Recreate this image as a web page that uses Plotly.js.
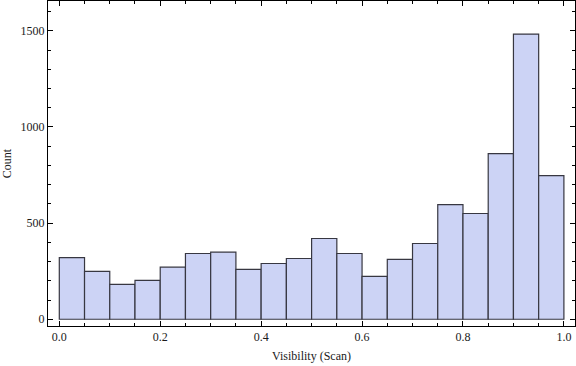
<!DOCTYPE html>
<html>
<head>
<meta charset="utf-8">
<script src="https://cdn.plot.ly/plotly-3.0.1.min.js"></script>
<style>
  html, body { margin: 0; padding: 0; background: #fff; }
  #chart { width: 576px; height: 366px; }
</style>
</head>
<body>
<div id="chart"></div>
<script>
// Bin centers (bin width 0.05, from 0 to 1)
const binCenters = [0.025, 0.075, 0.125, 0.175, 0.225, 0.275, 0.325, 0.375, 0.425, 0.475,
                    0.525, 0.575, 0.625, 0.675, 0.725, 0.775, 0.825, 0.875, 0.925, 0.975];
// Counts per bin
const counts = [321, 249, 181, 202, 271, 342, 349, 259, 290, 316,
                420, 342, 223, 311, 394, 596, 550, 861, 1483, 747];
const xTickVals = [0.0, 0.2, 0.4, 0.6, 0.8, 1.0];
const xTickText = ["0.0", "0.2", "0.4", "0.6", "0.8", "1.0"];
const yTickVals = [0, 500, 1000, 1500];
const yTickText = ["0", "500", "1000", "1500"];

const font = { family: "Liberation Serif, Times New Roman, serif", size: 12, color: "#1a1a1a" };

const trace = {
  type: "bar",
  x: binCenters,
  y: counts,
  width: 0.05,
  marker: {
    color: "rgb(204,211,245)",
    line: { color: "rgb(55,55,65)", width: 1.2 }
  },
  hoverinfo: "x+y"
};

const axisCommon = {
  showgrid: false,
  zeroline: false,
  showline: true,
  linecolor: "#000",
  linewidth: 1,
  mirror: "ticks",
  ticks: "inside",
  ticklen: 5,
  tickwidth: 1,
  tickcolor: "#000",
  tickfont: font
};

const layout = {
  width: 576,
  height: 366,
  margin: { l: 48, r: 1, t: 1, b: 40 },
  paper_bgcolor: "#fff",
  plot_bgcolor: "#fff",
  showlegend: false,
  bargap: 0,
  font: font,
  xaxis: Object.assign({}, axisCommon, {
    range: [-0.0224, 1.022],
    tickvals: xTickVals,
    ticktext: xTickText,
    minor: { tickvals: [0.05,0.1,0.15,0.25,0.3,0.35,0.45,0.5,0.55,0.65,0.7,0.75,0.85,0.9,0.95], ticks: "inside", ticklen: 3, tickcolor: "#000" },
    title: { text: "Visibility (Scan)", font: font, standoff: 8 }
  }),
  yaxis: Object.assign({}, axisCommon, {
    range: [-35, 1655],
    tickvals: yTickVals,
    ticktext: yTickText,
    minor: { dtick: 100, ticks: "inside", ticklen: 3, tickcolor: "#000" },
    title: { text: "Count", font: font, standoff: 10 }
  })
};

Plotly.newPlot("chart", [trace], layout, { displayModeBar: false, staticPlot: true });
</script>
</body>
</html>
